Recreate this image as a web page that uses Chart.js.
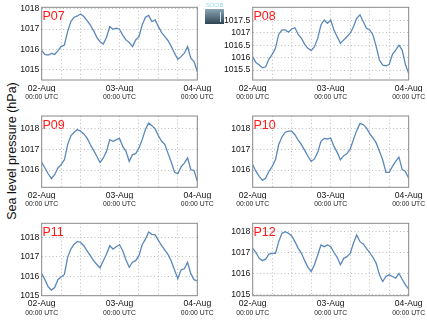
<!DOCTYPE html>
<html><head><meta charset="utf-8">
<script src="https://cdn.jsdelivr.net/npm/chart.js@4/dist/chart.umd.min.js"></script>
<style>
html,body{margin:0;padding:0;background:#fff;}
body{width:427px;height:322px;position:relative;overflow:hidden;font-family:"Liberation Sans",Arial,sans-serif;}
canvas{position:absolute;}
.plab{position:absolute;color:#ff1a1a;font-size:12.5px;line-height:12.5px;white-space:nowrap;z-index:3;}
#ytitle{position:absolute;left:12px;top:151px;transform:translate(-50%,-50%) rotate(-90deg);font-size:12.5px;line-height:13px;white-space:nowrap;color:#111;}
#logo{position:absolute;left:205px;top:2px;width:19px;z-index:4;}
</style></head><body>
<div id="ytitle">Sea level pressure (hPa)</div>
<div id="logo">
 <div style="font-size:6px;line-height:6px;color:#9bd8e6;text-align:center;letter-spacing:-0.2px">SOCIB</div>
 <div style="margin-top:1px;height:15px;background:linear-gradient(#8aa6b4,#2f4453);position:relative"><div style="position:absolute;right:3px;top:3px;width:1px;height:10px;background:#cfe3ea"></div></div>
</div>
<script>
// ---- data ----
const hours = [0,1,2,3,4,5,6,7,8,9,10,11,12,13,14,15,16,17,18,19,20,21,22,23,24,25,26,27,28,29,30,31,32,33,34,35,36,37,38,39,40,41,42,43,44,45,46,47,48];
const gridHours = [0,6,12,18,24,30,36,42,48];
const dateTickHours = [0,24,48];
const dateLabels = ['02-Aug','03-Aug','04-Aug'];
const timeLabel = '00:00 UTC';
const stationNames = ['P07','P08','P09','P10','P11','P12'];

const p07 = [1015.93,1015.74,1015.71,1015.79,1015.74,1015.93,1016.13,1016.21,1016.87,1017.37,1017.59,1017.65,1017.75,1017.62,1017.42,1017.2,1016.92,1016.59,1016.37,1016.26,1016.59,1017.12,1016.99,1017.04,1016.99,1016.7,1016.46,1016.33,1016.13,1016.46,1016.62,1017.2,1017.59,1017.68,1017.37,1017.45,1017.12,1016.82,1016.62,1016.42,1016.13,1015.79,1015.5,1015.63,1015.8,1016.13,1015.55,1015.38,1014.88];
const p08 = [1016.03,1015.8,1015.7,1015.59,1015.63,1015.94,1016.13,1016.37,1016.93,1017.11,1017.11,1017.02,1017.15,1017.2,1016.93,1016.77,1016.53,1016.37,1016.28,1016.44,1016.77,1017.31,1017.51,1017.38,1017.51,1017.11,1016.84,1016.57,1016.71,1016.84,1016.98,1017.24,1017.58,1017.72,1017.45,1017.18,1017.11,1016.91,1016.44,1015.9,1015.7,1015.67,1015.72,1016.13,1016.3,1016.5,1016.3,1015.72,1015.36];
const p09 = [1016.37,1016.1,1015.82,1015.58,1015.77,1016.1,1016.26,1016.5,1017.24,1017.67,1017.84,1017.97,1017.89,1017.76,1017.56,1017.24,1016.96,1016.67,1016.37,1016.59,1016.91,1017.48,1017.4,1017.48,1017.54,1017.15,1016.91,1016.42,1016.75,1016.8,1017.07,1017.48,1017.97,1018.29,1018.16,1018,1017.67,1017.4,1017.24,1016.8,1016.37,1015.89,1015.82,1016.15,1016.34,1016.59,1016.02,1015.98,1015.45];
const p10 = [1016.26,1015.93,1015.69,1015.5,1015.61,1015.93,1016.18,1016.5,1017.24,1017.61,1017.84,1017.89,1017.89,1017.72,1017.45,1017.24,1016.96,1016.67,1016.42,1016.54,1016.86,1017.4,1017.54,1017.51,1017.56,1017.15,1016.86,1016.5,1016.7,1016.8,1017.02,1017.48,1017.93,1018.26,1018.21,1018.05,1017.77,1017.56,1017.32,1016.91,1016.5,1015.89,1015.89,1016.18,1016.42,1016.63,1016.02,1015.93,1015.6];
const p11 = [1016.14,1015.83,1015.46,1015.29,1015.42,1015.83,1015.97,1016.1,1016.98,1017.41,1017.66,1017.8,1017.75,1017.58,1017.32,1017.07,1016.81,1016.61,1016.44,1016.81,1017.15,1017.58,1017.41,1017.53,1017.63,1017.32,1016.85,1016.47,1016.73,1016.81,1017.07,1017.63,1017.92,1018.29,1018.17,1018.14,1017.86,1017.58,1017.36,1017.12,1016.78,1016.31,1015.88,1016.34,1016.39,1016.73,1016.14,1015.83,1015.76];
const p12 = [1017.2,1017,1016.72,1016.61,1016.68,1016.92,1016.96,1016.96,1017.52,1017.92,1018,1017.92,1017.79,1017.52,1017.2,1016.96,1016.61,1016.29,1016.09,1016.41,1016.88,1017.36,1017.28,1017.36,1017.28,1017,1016.77,1016.41,1016.72,1016.8,1016.96,1017.44,1017.84,1017.52,1017.41,1017.2,1017,1016.77,1016.48,1015.93,1015.61,1015.85,1015.93,1015.85,1015.77,1016,1015.72,1015.45,1015.24];

const yTicks07 = [1015,1016,1017,1018];
const yTicks08 = [1015.5,1016,1016.5,1017,1017.5];
const yTicks09 = [1016,1017,1018];
const yTicks10 = [1016,1017,1018];
const yTicks11 = [1015,1016,1017,1018];
const yTicks12 = [1015,1016,1017,1018];

const yRange07 = [1014.47,1018.08];
const yRange08 = [1015.1,1018.02];
const yRange09 = [1015.16,1018.63];
const yRange10 = [1015.16,1018.63];
const yRange11 = [1015.0,1018.74];
const yRange12 = [1014.93,1018.4];

const seriesList = [p07,p08,p09,p10,p11,p12];
const tickList = [yTicks07,yTicks08,yTicks09,yTicks10,yTicks11,yTicks12];
const rangeList = [yRange07,yRange08,yRange09,yRange10,yRange11,yRange12];

// ---- layout ----
const cols = [{left:16,width:200,plotLeft:41.7,plotRight:197.3},{left:216,width:211,plotLeft:252.7,plotRight:408.7}];
const rows = [{top:0,height:104,plotTop:7.3,plotBottom:80},{top:108,height:104,plotTop:116,plotBottom:187.3},{top:215,height:105,plotTop:223.3,plotBottom:295.7}];
const XH1 = 12, XH2 = 10;
const FONT = '"Liberation Sans", Arial, Helvetica, sans-serif';
const LINE = '#5a88bb';
const GRID = '#bdbdbd';

const framePlugin = {id:'frame', afterDraw(chart){
  const a = chart.chartArea, c = chart.ctx;
  c.save(); c.strokeStyle = '#8a8a8a'; c.lineWidth = 1;
  c.strokeRect(a.left, a.top, a.right - a.left, a.bottom - a.top);
  c.restore();
}};

stationNames.forEach((name, i) => {
  const col = cols[i % 2], row = rows[Math.floor(i / 2)];
  const cv = document.createElement('canvas');
  cv.width = col.width; cv.height = row.height;
  cv.style.left = col.left + 'px'; cv.style.top = row.top + 'px';
  cv.style.width = col.width + 'px'; cv.style.height = row.height + 'px';
  document.body.appendChild(cv);

  const lab = document.createElement('div');
  lab.className = 'plab'; lab.textContent = name;
  lab.style.left = (col.plotLeft + 0.8) + 'px';
  lab.style.top = (row.plotTop + 2.7) + 'px';
  document.body.appendChild(lab);

  const vals = seriesList[i];
  new Chart(cv, {
    type: 'line',
    data: {datasets: [{
      data: hours.map((h, k) => ({x: h, y: vals[k]})),
      borderColor: LINE, borderWidth: 1.3, pointRadius: 0, tension: 0, fill: false
    }]},
    options: {
      responsive: false, animation: false, devicePixelRatio: 1,
      layout: {padding: {
        left: 0,
        top: row.plotTop - row.top,
        right: col.left + col.width - col.plotRight,
        bottom: row.top + row.height - row.plotBottom - XH1 - XH2
      }},
      plugins: {legend: {display: false}, tooltip: {enabled: false}, title: {display: false}},
      scales: {
        x: {
          type: 'linear', position: 'bottom', min: 0, max: 48, weight: 0, bounds: 'data',
          afterBuildTicks: s => { s.ticks = gridHours.map(v => ({value: v})); },
          afterFit: s => { s.height = XH1; s.paddingLeft = 0; s.paddingRight = 0; },
          grid: {color: GRID, lineWidth: 1, drawTicks: false},
          border: {display: false, dash: [1, 2.5]},
          ticks: {autoSkip: false, maxRotation: 0, padding: 3, color: '#111',
            font: {family: FONT, size: 8.6},
            callback: v => { const k = dateTickHours.indexOf(v); return k >= 0 ? dateLabels[k] : ''; }}
        },
        x2: {
          type: 'linear', position: 'bottom', min: 0, max: 48, weight: 1, bounds: 'data',
          afterBuildTicks: s => { s.ticks = dateTickHours.map(v => ({value: v})); },
          afterFit: s => { s.height = XH2; s.paddingLeft = 0; s.paddingRight = 0; },
          grid: {display: false, drawTicks: false},
          border: {display: false},
          ticks: {autoSkip: false, maxRotation: 0, padding: 1, color: '#222',
            font: {family: FONT, size: 6.8}, callback: () => timeLabel}
        },
        y: {
          type: 'linear', position: 'left', min: rangeList[i][0], max: rangeList[i][1], bounds: 'data',
          afterBuildTicks: s => { s.ticks = tickList[i].map(v => ({value: v})); },
          afterFit: s => { s.width = col.plotLeft - col.left; s.paddingTop = 0; s.paddingBottom = 0; },
          grid: {color: GRID, lineWidth: 1, drawTicks: false},
          border: {display: false, dash: [1, 2.5]},
          ticks: {autoSkip: false, padding: 2.4, color: '#111',
            font: {family: FONT, size: 8.6}, callback: v => String(v)}
        }
      }
    },
    plugins: [framePlugin]
  });
});
</script>
</body></html>
